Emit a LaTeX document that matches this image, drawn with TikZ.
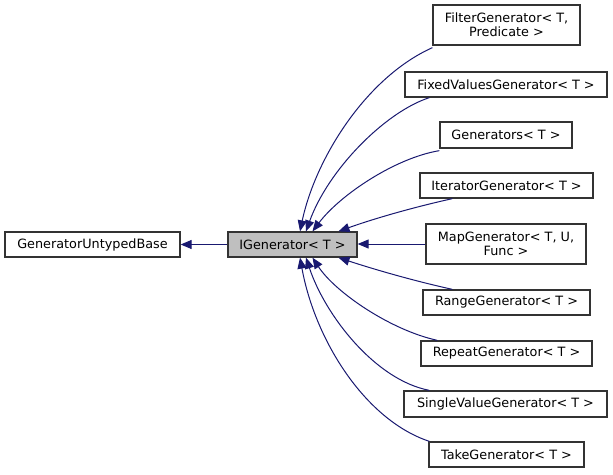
\documentclass[tikz,border=0pt]{standalone}
\usepackage{fontspec}
\setmainfont{DejaVu Sans}
\usetikzlibrary{arrows.meta}
\definecolor{edgeblue}{HTML}{191970}
\definecolor{boxline}{HTML}{333333}
\definecolor{hlfill}{HTML}{BFBFBF}
\begin{document}
\begin{tikzpicture}[x=1pt,y=-1pt,
  cls/.style={draw=boxline,line width=1.3pt,fill=white,inner sep=0pt,align=center,
    font=\fontsize{12.8}{14}\selectfont},
  inh/.style={draw=edgeblue,line width=1pt,
    arrows={-{Triangle[length=11pt,width=9pt,fill=edgeblue]}}}
]
\useasboundingbox (0,0) rectangle (613,474);
\node[cls,minimum width=175pt,minimum height=25pt] (base) at (92.5,244.5) {GeneratorUntypedBase};
\node[cls,fill=hlfill,minimum width=129pt,minimum height=25pt] (igen) at (292.5,244.5) {IGenerator< T >};
\node[cls,minimum width=147pt,minimum height=40pt] (filter) at (506.5,25) {FilterGenerator< T,\\Predicate >};
\node[cls,minimum width=202pt,minimum height=25pt] (fixed) at (506,84.5) {FixedValuesGenerator< T >};
\node[cls,minimum width=132pt,minimum height=26pt] (gens) at (506,135) {Generators< T >};
\node[cls,minimum width=173pt,minimum height=25pt] (iter) at (506.5,185.5) {IteratorGenerator< T >};
\node[cls,minimum width=160pt,minimum height=40pt] (map) at (506,244) {MapGenerator< T, U,\\Func >};
\node[cls,minimum width=167pt,minimum height=25pt] (range) at (506.5,302.5) {RangeGenerator< T >};
\node[cls,minimum width=171pt,minimum height=25pt] (repeat) at (506.5,353.5) {RepeatGenerator< T >};
\node[cls,minimum width=203pt,minimum height=26pt] (single) at (505.5,404) {SingleValueGenerator< T >};
\node[cls,minimum width=155pt,minimum height=25pt] (take) at (506.5,454.5) {TakeGenerator< T >};

\draw[inh] (igen.west) -- (base.east);
\draw[inh] ([xshift=0pt,yshift=-2pt]filter.south west) .. controls (365,78) and (315,160) .. ([xshift=7.5pt]igen.north);
\draw[inh] ([xshift=25pt]fixed.south west) .. controls (385,112) and (328,170) .. ([xshift=13.5pt]igen.north);
\draw[inh] ([xshift=0pt,yshift=-2pt]gens.south west) .. controls (395,158) and (340,195) .. ([xshift=20pt]igen.north);
\draw[inh] ([xshift=33pt]iter.south west) .. controls (410,208) and (370,220) .. ([xshift=46pt]igen.north);
\draw[inh] (map.west) -- (igen.east |- map.west);
\draw[inh] ([xshift=30pt]range.north west) .. controls (410,280) and (370,268) .. ([xshift=46pt]igen.south);
\draw[inh] ([xshift=17pt]repeat.north west) .. controls (390,330) and (335,292) .. ([xshift=20pt]igen.south);
\draw[inh] ([xshift=26pt]single.north west) .. controls (375,380) and (325,315) .. ([xshift=13.5pt]igen.south);
\draw[inh] ([xshift=1pt]take.north west) .. controls (365,420) and (315,340) .. ([xshift=7.5pt]igen.south);
\end{tikzpicture}
\end{document}
